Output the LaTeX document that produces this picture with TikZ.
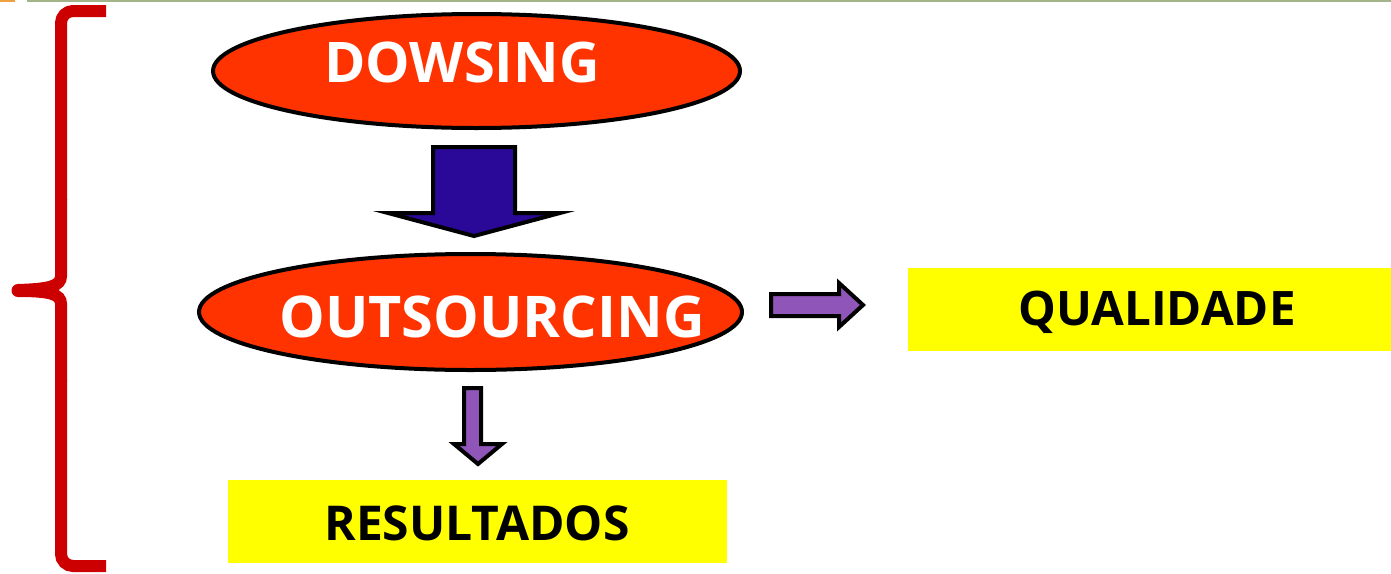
\documentclass[tikz,border=0pt]{standalone}
\usepackage{fontspec}
\setmainfont{Open Sans}
\usetikzlibrary{shapes.geometric}
\definecolor{ellred}{HTML}{FF3300}
\definecolor{bracered}{HTML}{CC0000}
\definecolor{darkblue}{HTML}{2A0898}
\definecolor{arrpurple}{HTML}{9055B8}
\definecolor{topgreen}{HTML}{A3B38A}
\definecolor{toporange}{HTML}{F0A040}
\definecolor{boxyellow}{HTML}{FFFF00}
\tikzset{
  ell/.style={ellipse, draw=black, line width=4pt, fill=ellred, inner sep=0pt},
  wtext/.style={text=white, font=\bfseries\fontsize{56}{60}\selectfont, inner sep=0pt},
  ybox/.style={fill=boxyellow, draw=none, inner sep=0pt},
  btext/.style={text=black, font=\bfseries\fontsize{48}{53}\selectfont, inner sep=0pt},
  fatarrow/.style={draw=black, line width=4pt, line join=miter},
}
\begin{document}
\begin{tikzpicture}[x=1pt,y=-1pt]
\useasboundingbox (0,0) rectangle (1391,573);
% top rules
\draw[toporange, line width=2pt] (0,1) -- (15,1);
\draw[topgreen, line width=2pt] (27,1) -- (1391,1);
% brace
\draw[bracered, line width=12pt, line cap=butt, line join=round, rounded corners=12pt]
  (106,11) -- (61,11) -- (61,200);
\draw[bracered, line width=12pt] (61,199) -- (61,276) .. controls (61,286) and (50,289) .. (18,290);
\draw[bracered, line width=12pt, rounded corners=12pt]
  (106,566) -- (61,566) -- (61,380);
\draw[bracered, line width=12pt] (61,381) -- (61,304) .. controls (61,294) and (50,291) .. (18,291);
\fill[bracered] (18,290.5) circle (6.5pt);
% ellipses
\node[ell, minimum width=527pt, minimum height=114pt] (dow) at (476.5,71) {};
\node[wtext] (dowt) at (462,62) {DOWSING};
\node[ell, minimum width=543pt, minimum height=116pt] (out) at (470.5,312) {};
\node[wtext, font=\bfseries\fontsize{57.5}{62}\selectfont] (outt) at (492,317) {OUTSOURCING};
% big blue arrow
\filldraw[fatarrow, fill=darkblue]
  (433,147) -- (515,147) -- (515,213) -- (560,213) -- (474,236) -- (388,213) -- (433,213) -- cycle;
% right purple arrow
\filldraw[fatarrow, fill=arrpurple]
  (771,294) -- (839,294) -- (839,283) -- (863,305) -- (839,327) -- (839,316) -- (771,316) -- cycle;
% down purple arrow
\filldraw[fatarrow, fill=arrpurple]
  (464,388) -- (481,388) -- (481,444) -- (502,444) -- (478,464) -- (454,444) -- (464,444) -- cycle;
% yellow boxes
\node[ybox, minimum width=483pt, minimum height=83pt] (qual) at (1149.5,309.5) {};
\node[btext, font=\bfseries\fontsize{47.5}{52}\selectfont] (qualt) at (1157,312) {QUALIDADE};
\node[ybox, minimum width=499pt, minimum height=83pt] (res) at (477.5,521.5) {};
\node[btext] (rest) at (477,523) {RESULTADOS};
\end{tikzpicture}
\end{document}
